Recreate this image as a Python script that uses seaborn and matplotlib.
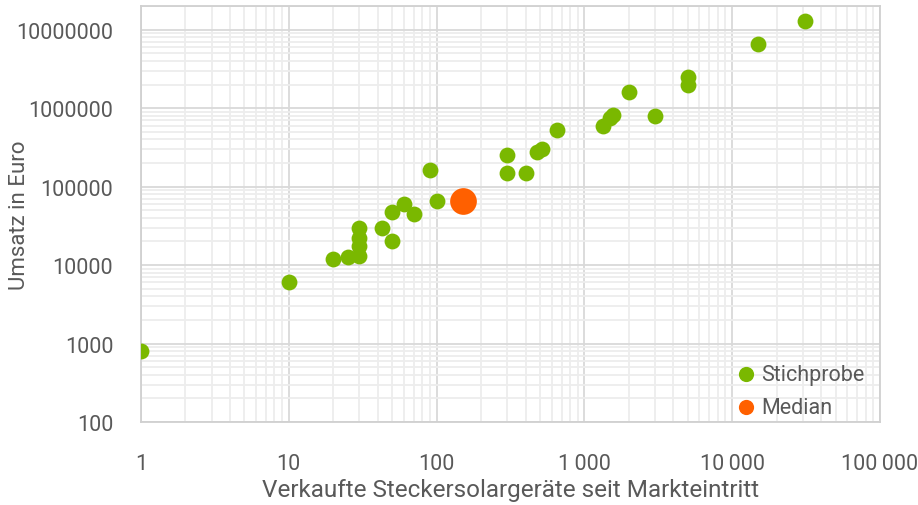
import matplotlib
matplotlib.use("Agg")
import matplotlib.pyplot as plt
import matplotlib.ticker as mticker
import pandas as pd
import seaborn as sns

# Stichprobe: verkaufte Geräte und Umsatz
sample_units = [1, 10, 20, 25, 30, 30, 30, 30, 43, 50, 50, 60, 70, 90, 100,
                300, 300, 400, 480, 520, 650, 1330, 1500, 1550, 2000, 3000,
                5000, 5000, 15000, 31000]
sample_revenue = [800, 6000, 12000, 12500, 13000, 17500, 22000, 30000, 30000,
                  20000, 48000, 60000, 45000, 165000, 65000,
                  250000, 150000, 150000, 278000, 300000, 520000, 600000,
                  750000, 820000, 1600000, 800000, 2500000, 2000000,
                  6500000, 13000000]

median_units = [150]
median_revenue = [65000]

x_ticks = [1, 10, 100, 1000, 10000, 100000]
x_ticklabels = ["1", "10", "100", "1\u2009000", "10\u2009000", "100\u2009000"]
y_ticks = [100, 1000, 10000, 100000, 1000000, 10000000]
y_ticklabels = ["100", "1000", "10000", "100000", "1000000", "10000000"]

green = "#7AB800"
orange = "#FF6000"
text_col = "#595959"

sample = pd.DataFrame({"units": sample_units, "revenue": sample_revenue})
median = pd.DataFrame({"units": median_units, "revenue": median_revenue})

sns.set_style("white")
plt.rcParams["font.family"] = ["Roboto", "DejaVu Sans"]

fig = plt.figure(figsize=(9.18, 5.06), dpi=100)
ax = fig.add_axes([0.1536, 0.164, 0.8050, 0.822])

sns.scatterplot(data=sample, x="units", y="revenue", ax=ax, color=green,
                s=130, linewidth=0, label="Stichprobe", zorder=3)
sns.scatterplot(data=median, x="units", y="revenue", ax=ax, color=orange,
                s=370, linewidth=0, label="Median", zorder=4)

ax.set_xscale("log")
ax.set_yscale("log")
ax.set_xlim(1, 100000)
ax.set_ylim(100, 2e7)

ax.set_xticks(x_ticks)
ax.set_xticklabels(x_ticklabels)
ax.set_yticks(y_ticks)
ax.set_yticklabels(y_ticklabels)
ax.xaxis.set_minor_locator(mticker.LogLocator(base=10, subs=range(2, 10)))
ax.yaxis.set_minor_locator(mticker.LogLocator(base=10, subs=range(2, 10)))
ax.xaxis.set_minor_formatter(mticker.NullFormatter())
ax.yaxis.set_minor_formatter(mticker.NullFormatter())

ax.grid(which="major", color="#D9D9D9", linewidth=1.3)
ax.grid(which="minor", color="#EDEDED", linewidth=1.3)
ax.set_axisbelow(True)

ax.tick_params(which="both", length=0)
ax.tick_params(axis="x", pad=22, labelsize=15.5, labelcolor=text_col)
ax.tick_params(axis="y", pad=20, labelsize=15.5, labelcolor=text_col)

for side in ["left", "bottom", "top", "right"]:
    ax.spines[side].set_color("#D0D0D0")
    ax.spines[side].set_linewidth(1.3)

ax.set_xlabel("Verkaufte Steckersolargeräte seit Markteintritt",
              fontsize=17.5, color=text_col, labelpad=3)
ax.set_ylabel("Umsatz in Euro", fontsize=16, color=text_col)
ax.yaxis.set_label_coords(-0.164, 0.5)
ax.yaxis.label.set_verticalalignment("center")

leg = ax.legend(loc="lower right", bbox_to_anchor=(0.985, 0.0),
                frameon=False, fontsize=15.5,
                handlelength=1.0, handletextpad=0.2, labelspacing=0.55,
                borderaxespad=0.0, borderpad=0.2)
for h in leg.legend_handles:
    h.set_sizes([120])
for t in leg.get_texts():
    t.set_color(text_col)

fig.savefig("out.png", dpi=100)
